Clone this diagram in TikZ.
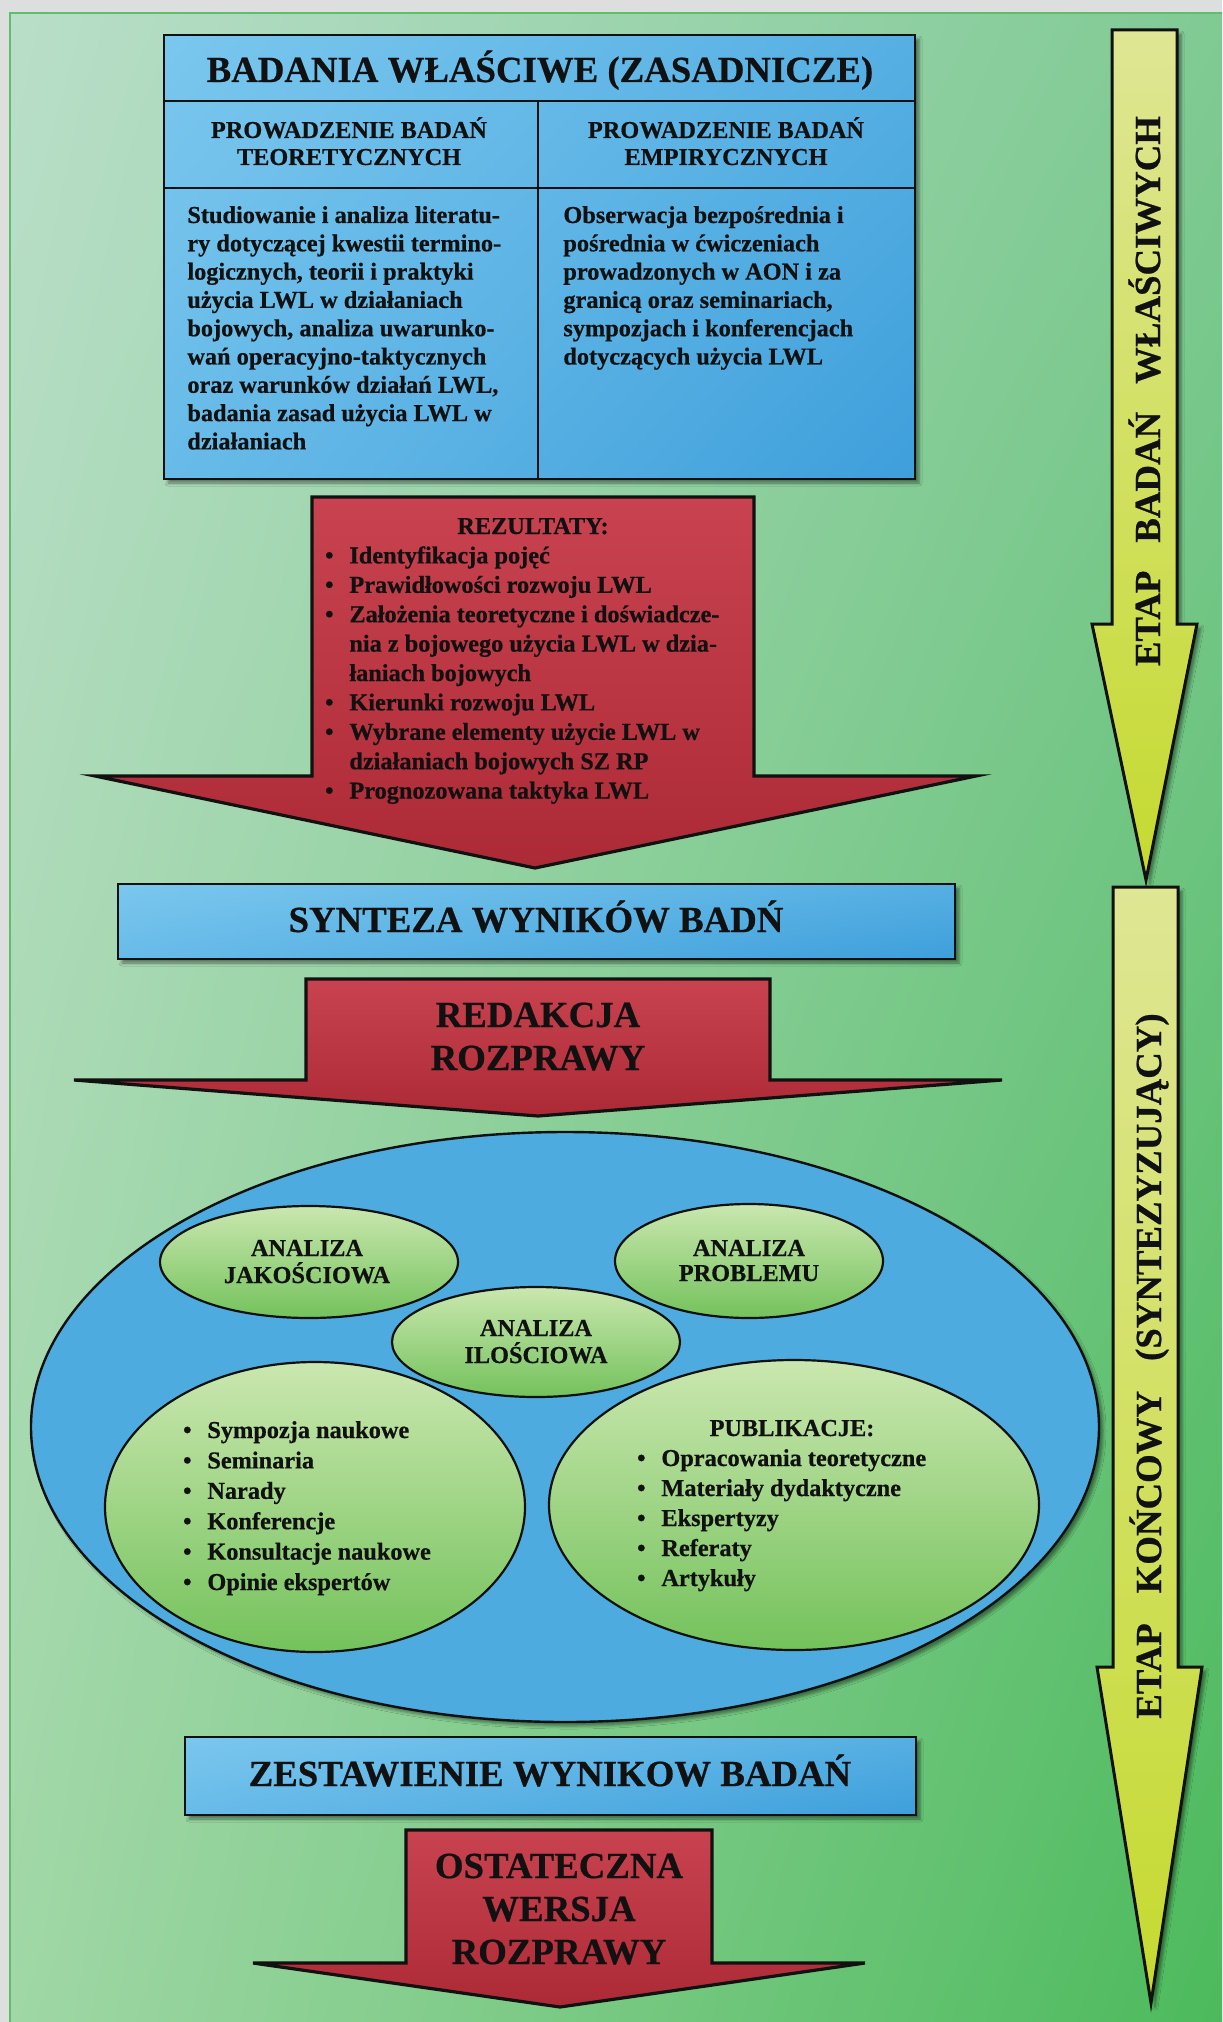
\documentclass[tikz,border=0pt]{standalone}
\usepackage{fontspec}
\setmainfont{Liberation Serif}[BoldFeatures={FakeBold=0.6}]
\usetikzlibrary{shadings,shadows.blur}

\definecolor{pagegray}{HTML}{DCDFDE}
\definecolor{frameline}{HTML}{5FBD6C}
\definecolor{bgUL}{HTML}{B9DEC9}
\definecolor{bgUR}{HTML}{80CA94}
\definecolor{bgLL}{HTML}{A0D7A5}
\definecolor{bgLR}{HTML}{4CBA5C}
\definecolor{boxlight}{HTML}{7AC7EE}
\definecolor{boxdark}{HTML}{3E9FDB}
\definecolor{redtop}{HTML}{C8434F}
\definecolor{redbot}{HTML}{AC2A36}
\definecolor{yelltop}{HTML}{DFE694}
\definecolor{yellbot}{HTML}{C5DA30}
\definecolor{bigblue}{HTML}{4EABDF}
\definecolor{greentop}{HTML}{CAE7AF}
\definecolor{greenbot}{HTML}{74C25C}
\definecolor{ink}{HTML}{111111}

\newcommand\dgBig{\fontsize{18.4pt}{20pt}\selectfont\bfseries}
\newcommand\dgSmall{\fontsize{12.15pt}{14pt}\selectfont\bfseries}

\tikzset{
  outline/.style={draw=ink, line width=1.3pt, line join=miter},
  softshadow/.style={blur shadow={shadow xshift=2pt, shadow yshift=-2pt,
      shadow blur steps=4, shadow blur radius=1.5pt, shadow opacity=45}},
  bluebox/.style={outline, softshadow, upper left=boxlight,
      upper right=boxdark!60!boxlight, lower left=boxlight!70!boxdark,
      lower right=boxdark},
  redarrow/.style={outline, line width=1.6pt, top color=redtop, bottom color=redbot},
  yellarrow/.style={outline, line width=1.5pt, softshadow, top color=yelltop, bottom color=yellbot},
  greenell/.style={draw=ink, line width=1.1pt, top color=greentop, bottom color=greenbot},
  big/.style={font=\dgBig, text=ink, inner sep=0pt},
  small/.style={font=\dgSmall, text=ink, inner sep=0pt},
}

\begin{document}
\begin{tikzpicture}[x=0.5pt, y=-0.5pt]
\useasboundingbox (0,0) rectangle (1222,2022);

% page and tinted background
\fill[pagegray] (0,0) rectangle (1222,2022);
\shade[upper left=bgUL, upper right=bgUR, lower left=bgLL, lower right=bgLR]
  (10,13) rectangle (1222,2022);
\draw[frameline, line width=1pt] (10,2022) -- (10,13) -- (1222,13);

% stage arrows on the right
\path[yellarrow] (1112,30) -- (1177,30) -- (1177,624) -- (1197,624) -- (1146,880)
  -- (1092,624) -- (1112,624) -- cycle;
\path[yellarrow] (1113,887) -- (1178,887) -- (1178,1667) -- (1202,1667) -- (1151,2003)
  -- (1097,1667) -- (1113,1667) -- cycle;
\node[big, rotate=90, anchor=base] (stage1) at (1160,391)
  {ETAP\hspace{14pt}BADAŃ\hspace{14pt}WŁAŚCIWYCH};
\node[big, rotate=90, anchor=base] (stage2) at (1161,1366)
  {ETAP\hspace{15pt}KOŃCOWY\hspace{15pt}(SYNTEZYZUJĄCY)};

% main research table
\path[bluebox] (164,35) rectangle (915,479);
\draw[outline] (164,101) -- (915,101) (164,188) -- (915,188) (538,101) -- (538,479);
\node[big, anchor=base] (title) at (540,82) {BADANIA WŁAŚCIWE (ZASADNICZE)};
\node[small, anchor=base] (th1) at (349,138) {PROWADZENIE BADAŃ};
\node[small, anchor=base] (th2) at (349,165) {TEORETYCZNYCH};
\node[small, anchor=base] (eh1) at (726,138) {PROWADZENIE BADAŃ};
\node[small, anchor=base] (eh2) at (726,165) {EMPIRYCZNYCH};
\foreach \t [count=\i from 0] in {{Studiowanie i analiza literatu-},
    {ry dotyczącej kwestii termino-}, {logicznych, teorii i praktyki},
    {użycia LWL w działaniach}, {bojowych, analiza uwarunko-},
    {wań operacyjno-taktycznych}, {oraz warunków działań LWL,},
    {badania zasad użycia LWL w}, {działaniach}}
  \node[small, anchor=base west] (tb\i) at (187,{223+28.3*\i}) {\t};
\foreach \t [count=\i from 0] in {{Obserwacja bezpośrednia i},
    {pośrednia w ćwiczeniach}, {prowadzonych w AON i za},
    {granicą oraz seminariach,}, {sympozjach i konferencjach},
    {dotyczących użycia LWL}}
  \node[small, anchor=base west] (eb\i) at (563,{223+28.3*\i}) {\t};

% results arrow
\path[redarrow] (312,497) -- (754,497) -- (754,776) -- (976,776) -- (535,868)
  -- (95,776) -- (312,776) -- cycle;
\node[small, anchor=base] (rez) at (533,534) {REZULTATY:};
\foreach \b/\t [count=\i] in {1/Identyfikacja pojęć, 1/Prawidłowości rozwoju LWL,
    1/Założenia teoretyczne i doświadcze-, 0/nia z bojowego użycia LWL w dzia-,
    0/łaniach bojowych, 1/Kierunki rozwoju LWL, 1/Wybrane elementy użycie LWL w,
    0/działaniach bojowych SZ RP, 1/Prognozowana taktyka LWL}
{
  \node[small, anchor=base west] (rz\i) at (349,{534+29.4*\i}) {\t};
  \ifnum\b=1
    \node[small, anchor=base east] (rzb\i) at (334,{534+29.4*\i}) {\textbullet};
  \fi
}

% synthesis
\path[bluebox] (118,884) rectangle (955,959);
\node[big, anchor=base] (synteza) at (536,932) {SYNTEZA WYNIKÓW BADŃ};

\path[redarrow] (306,979) -- (770,979) -- (770,1080) -- (1002,1080) -- (538,1116)
  -- (74,1080) -- (306,1080) -- cycle;
\node[big, anchor=base] (red1) at (538,1027) {REDAKCJA};
\node[big, anchor=base] (red2) at (538,1070) {ROZPRAWY};

% editing work
\path[softshadow, draw=ink, line width=1.2pt, fill=bigblue] (565,1427) ellipse [x radius=534, y radius=295];
\path[greenell] (309,1262) ellipse [x radius=149, y radius=56];
\path[greenell] (749,1261) ellipse [x radius=134, y radius=57];
\path[greenell] (536,1342) ellipse [x radius=144, y radius=55];
\path[greenell] (315,1507) ellipse [x radius=210, y radius=145];
\path[greenell] (794,1505) ellipse [x radius=245, y radius=145];

\node[small, anchor=base] (aj1) at (307,1256) {ANALIZA};
\node[small, anchor=base] (aj2) at (307,1283) {JAKOŚCIOWA};
\node[small, anchor=base] (ap1) at (749,1256) {ANALIZA};
\node[small, anchor=base] (ap2) at (749,1281) {PROBLEMU};
\node[small, anchor=base] (ai1) at (536,1336) {ANALIZA};
\node[small, anchor=base] (ai2) at (536,1363) {ILOŚCIOWA};

\foreach \t [count=\i from 0] in {Sympozja naukowe, Seminaria, Narady, Konferencje,
    Konsultacje naukowe, Opinie ekspertów}
{
  \node[small, anchor=base west] (sp\i) at (207,{1438+30.4*\i}) {\t};
  \node[small, anchor=base east] (spb\i) at (192,{1438+30.4*\i}) {\textbullet};
}
\node[small, anchor=base] (pub) at (792,1436) {PUBLIKACJE:};
\foreach \t [count=\i from 0] in {Opracowania teoretyczne, Materiały dydaktyczne,
    Ekspertyzy, Referaty, Artykuły}
{
  \node[small, anchor=base west] (pb\i) at (661,{1466+30*\i}) {\t};
  \node[small, anchor=base east] (pbb\i) at (646,{1466+30*\i}) {\textbullet};
}

% compilation and final version
\path[bluebox] (185,1737) rectangle (916,1815);
\node[big, anchor=base] (zest) at (550,1786) {ZESTAWIENIE WYNIKOW BADAŃ};

\path[redarrow] (406,1830) -- (712,1830) -- (712,1963) -- (865,1963) -- (560,2007)
  -- (253,1963) -- (406,1963) -- cycle;
\node[big, anchor=base] (ost1) at (559,1878) {OSTATECZNA};
\node[big, anchor=base] (ost2) at (559,1921) {WERSJA};
\node[big, anchor=base] (ost3) at (559,1964) {ROZPRAWY};
\end{tikzpicture}
\end{document}
